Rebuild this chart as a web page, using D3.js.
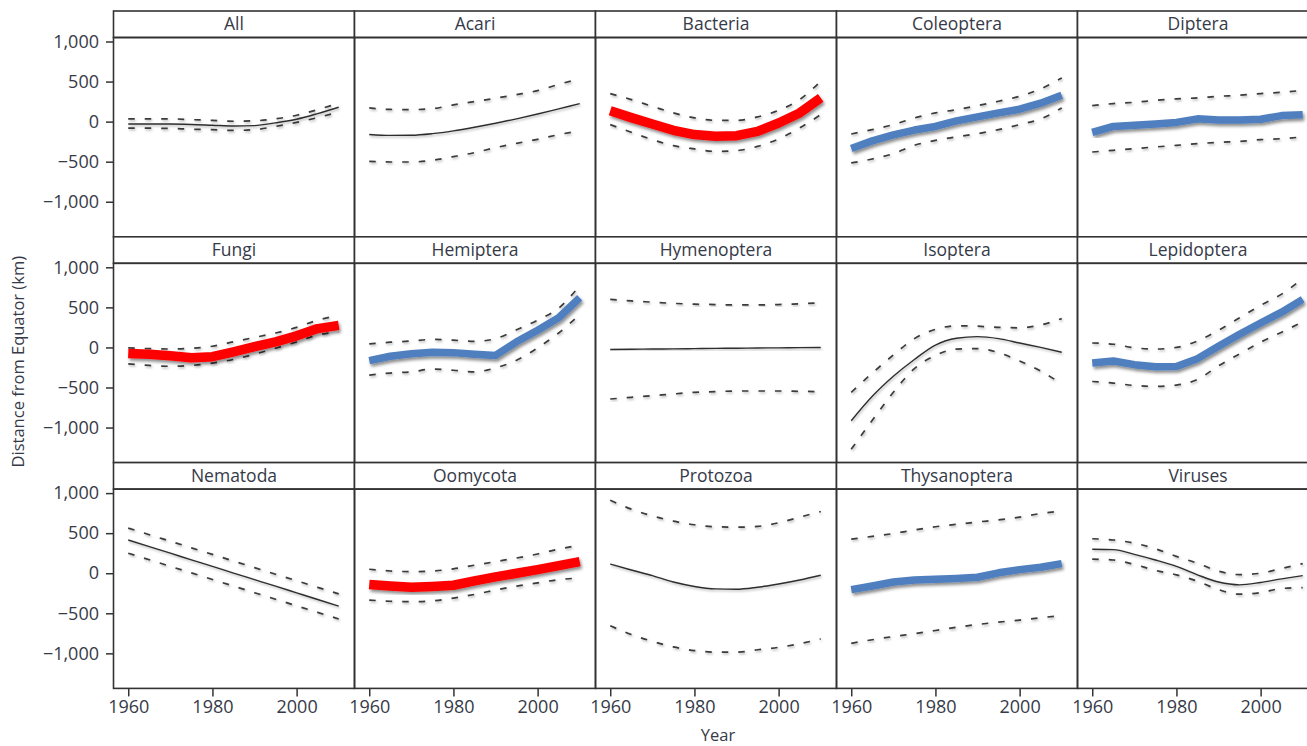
<!DOCTYPE html>
<html>
<head>
<meta charset="utf-8">
<script src="https://cdn.jsdelivr.net/npm/d3@7"></script>
<style>
  html, body { margin: 0; padding: 0; background: #fff; overflow: hidden; }
  svg { display: block; }
  text { font-family: "Open Sans", "Noto Sans", sans-serif; fill: #363a48; }
</style>
</head>
<body>
<svg id="chart" width="1307" height="746"></svg>
<script>
// Fitted poleward shift of observed ranges (km from the Equator), 1960–2010, every 5 years
const years = [1960, 1965, 1970, 1975, 1980, 1985, 1990, 1995, 2000, 2005, 2010];
const panelNames = ["All", "Acari", "Bacteria", "Coleoptera", "Diptera",
                    "Fungi", "Hemiptera", "Hymenoptera", "Isoptera", "Lepidoptera",
                    "Nematoda", "Oomycota", "Protozoa", "Thysanoptera", "Viruses"];
// significant trend group per panel: "path" (pathogens), "pest" (insects), or "" (none)
const trendGroup = ["", "", "path", "pest", "pest",
                    "path", "pest", "", "", "pest",
                    "", "path", "", "pest", ""];

const yTicks = [-1000, -500, 0, 500, 1000];
const xTicks = [1960, 1980, 2000];

const allFit = [-30, -30, -30, -35, -45, -55, -50, -15, 30, 100, 180];
const allLo  = [-80, -82, -85, -95, -100, -110, -100, -60, -10, 50, 120];
const allHi  = [35, 35, 35, 25, 15, 5, 10, 35, 80, 150, 230];

const acariFit = [-160, -172, -170, -150, -115, -70, -20, 35, 95, 160, 225];
const acariLo  = [-495, -504, -504, -483, -437, -387, -325, -271, -221, -162, -115];
const acariHi  = [171, 152, 150, 162, 209, 250, 292, 337, 387, 465, 535];

const bacteriaFit = [135, 50, -29, -108, -162, -183, -175, -121, -17, 108, 296];
const bacteriaLo  = [-37, -133, -225, -300, -341, -371, -362, -309, -216, -79, 87];
const bacteriaHi  = [350, 275, 191, 109, 46, 16, 16, 59, 141, 275, 504];

const coleopteraFit = [-335, -240, -165, -105, -60, 10, 60, 110, 155, 230, 330];
const coleopteraLo  = [-516, -466, -400, -296, -234, -191, -150, -100, -37, 34, 171];
const coleopteraHi  = [-154, -100, -37, 46, 109, 150, 200, 254, 316, 409, 546];

const dipteraFit = [-135, -60, -45, -30, -10, 35, 20, 20, 30, 75, 85];
const dipteraLo  = [-379, -358, -337, -316, -296, -275, -258, -246, -225, -212, -191];
const dipteraHi  = [200, 225, 241, 266, 284, 296, 316, 329, 350, 366, 391];

const fungiFit = [-75, -85, -105, -128, -115, -55, 10, 70, 145, 235, 275];
const fungiLo  = [-205, -225, -235, -225, -195, -150, -85, -10, 70, 155, 190];
const fungiHi  = [-5, -15, -20, -10, 15, 70, 125, 180, 250, 340, 400];

const hemipteraFit = [-165, -110, -80, -60, -65, -85, -100, 70, 215, 370, 620];
const hemipteraLo  = [-345, -320, -305, -270, -285, -305, -255, -160, -5, 180, 410];
const hemipteraHi  = [45, 65, 80, 100, 90, 75, 110, 220, 340, 490, 770];

const hymenopteraFit = [-25, -23, -20, -18, -15, -12, -10, -7, -5, -2, 0];
const hymenopteraLo  = [-644, -623, -602, -581, -560, -552, -544, -544, -544, -548, -552];
const hymenopteraHi  = [600, 580, 565, 550, 540, 535, 530, 530, 535, 545, 555];

const isopteraFit = [-915, -610, -360, -150, 30, 115, 135, 110, 55, 0, -60];
const isopteraLo  = [-1270, -910, -560, -265, -100, -20, -15, -65, -170, -295, -455];
const isopteraHi  = [-560, -320, -95, 110, 225, 270, 265, 250, 245, 280, 360];

const lepidopteraFit = [-195, -170, -215, -240, -237, -140, 15, 165, 305, 440, 600];
const lepidopteraLo  = [-425, -445, -475, -486, -470, -400, -230, -80, 65, 190, 320];
const lepidopteraHi  = [55, 40, -5, -20, 0, 80, 215, 370, 525, 665, 860];

const nematodaFit = [415, 332, 250, 167, 85, 2, -80, -162, -245, -328, -410];
const nematodaLo  = [250, 168, 86, 4, -78, -160, -243, -325, -407, -489, -571];
const nematodaHi  = [563, 481, 399, 317, 235, 152, 70, -12, -94, -176, -258];

const oomycotaFit = [-140, -160, -175, -165, -150, -95, -45, 0, 45, 95, 145];
const oomycotaLo  = [-335, -350, -355, -345, -310, -265, -210, -160, -120, -80, -60];
const oomycotaHi  = [50, 28, 20, 28, 55, 100, 145, 190, 240, 300, 350];

const protozoaFit = [115, 40, -30, -110, -165, -195, -200, -175, -135, -85, -25];
const protozoaLo  = [-655, -765, -850, -920, -965, -985, -985, -955, -925, -880, -820];
const protozoaHi  = [910, 800, 715, 650, 605, 580, 575, 585, 630, 700, 770];

const thysanopteraFit = [-205, -160, -110, -85, -75, -65, -50, 5, 45, 75, 120];
const thysanopteraLo  = [-875, -830, -790, -755, -715, -675, -640, -610, -585, -555, -530];
const thysanopteraHi  = [425, 460, 495, 540, 580, 610, 640, 665, 700, 745, 775];

const virusesFit = [300, 295, 235, 165, 85, -20, -110, -145, -115, -70, -30];
const virusesLo  = [175, 165, 110, 35, -20, -100, -205, -262, -242, -190, -180];
const virusesHi  = [430, 415, 375, 305, 210, 125, 25, -18, 0, 60, 120];

const fits = [allFit, acariFit, bacteriaFit, coleopteraFit, dipteraFit,
              fungiFit, hemipteraFit, hymenopteraFit, isopteraFit, lepidopteraFit,
              nematodaFit, oomycotaFit, protozoaFit, thysanopteraFit, virusesFit];
const lows = [allLo, acariLo, bacteriaLo, coleopteraLo, dipteraLo,
              fungiLo, hemipteraLo, hymenopteraLo, isopteraLo, lepidopteraLo,
              nematodaLo, oomycotaLo, protozoaLo, thysanopteraLo, virusesLo];
const highs = [allHi, acariHi, bacteriaHi, coleopteraHi, dipteraHi,
               fungiHi, hemipteraHi, hymenopteraHi, isopteraHi, lepidopteraHi,
               nematodaHi, oomycotaHi, protozoaHi, thysanopteraHi, virusesHi];

// ---- layout ----
const nCols = 5;
const gridLeft = 113.5, gridTop = 11;
const colW = 241, stripH = 26.5, plotH = 199.3;
const rowH = stripH + plotH;

const groupStyle = {
  path: { color: "#ff0000", width: 9.5 },
  pest: { color: "#4f7fbf", width: 7.5 }
};

const svg = d3.select("#chart");

const defs = svg.append("defs");
const shadow = defs.append("filter").attr("id", "shadow")
  .attr("x", "-10%").attr("y", "-30%").attr("width", "120%").attr("height", "160%");
shadow.append("feDropShadow").attr("dx", 1.5).attr("dy", 2.5)
  .attr("stdDeviation", 1.6).attr("flood-color", "#000").attr("flood-opacity", 0.45);
const softShadow = defs.append("filter").attr("id", "softShadow")
  .attr("x", "-10%").attr("y", "-30%").attr("width", "120%").attr("height", "160%");
softShadow.append("feDropShadow").attr("dx", 1).attr("dy", 1.5)
  .attr("stdDeviation", 0.8).attr("flood-color", "#000").attr("flood-opacity", 0.3);

const x = d3.scaleLinear().domain([1956.5, 2013.75]).range([0, colW]);
const y = d3.scaleLinear().domain([-1437.5, 1050]).range([plotH, 0]);

const smoothLine = d3.line()
  .x(d => x(d[0])).y(d => y(d[1])).curve(d3.curveMonotoneX);
const trendLine = d3.line()
  .x(d => x(d[0])).y(d => y(d[1])).curve(d3.curveLinear);

const fmt = d3.format(",");
const minusFmt = v => fmt(v).replace("-", "\u2212");

panelNames.forEach((name, i) => {
  const col = i % nCols, row = Math.floor(i / nCols);
  const left = gridLeft + col * colW;
  const top = gridTop + row * rowH;

  const g = svg.append("g").attr("transform", `translate(${left},${top})`);

  // strip with panel title
  g.append("rect")
    .attr("x", 0).attr("y", 0).attr("width", colW).attr("height", stripH)
    .attr("fill", "#fff").attr("stroke", "#333").attr("stroke-width", 1.6);
  g.append("text")
    .attr("x", colW / 2).attr("y", stripH / 2 + 6)
    .attr("text-anchor", "middle").attr("font-size", 17.5)
    .text(name);

  const p = g.append("g").attr("transform", `translate(0,${stripH})`);

  const clipId = "clip" + i;
  defs.append("clipPath").attr("id", clipId)
    .append("rect").attr("x", 0).attr("y", 0).attr("width", colW).attr("height", plotH);

  const marks = p.append("g").attr("clip-path", `url(#${clipId})`);
  const lo = years.map((yr, k) => [yr, lows[i][k]]);
  const hi = years.map((yr, k) => [yr, highs[i][k]]);
  const fit = years.map((yr, k) => [yr, fits[i][k]]);

  [lo, hi].forEach(band => {
    marks.append("path")
      .attr("d", smoothLine(band))
      .attr("fill", "none").attr("stroke", "#3a3a3a")
      .attr("stroke-width", 1.7).attr("stroke-dasharray", "6.5,10")
      .attr("filter", "url(#softShadow)");
  });

  const grp = trendGroup[i];
  if (grp) {
    const st = groupStyle[grp];
    marks.append("path")
      .attr("d", trendLine(fit))
      .attr("fill", "none").attr("stroke", st.color)
      .attr("stroke-width", st.width)
      .attr("stroke-linejoin", "round").attr("stroke-linecap", "butt")
      .attr("filter", "url(#shadow)");
  } else {
    marks.append("path")
      .attr("d", smoothLine(fit))
      .attr("fill", "none").attr("stroke", "#2e2e2e")
      .attr("stroke-width", 1.4)
      .attr("filter", "url(#softShadow)");
  }

  p.append("rect")
    .attr("x", 0).attr("y", 0).attr("width", colW).attr("height", plotH)
    .attr("fill", "none").attr("stroke", "#333").attr("stroke-width", 1.6);

  if (col === 0) {
    const ax = p.append("g")
      .call(d3.axisLeft(y).tickValues(yTicks).tickFormat(minusFmt)
        .tickSize(7.5).tickPadding(7));
    ax.select(".domain").remove();
    ax.selectAll(".tick line").attr("stroke", "#333").attr("stroke-width", 1.5);
    ax.selectAll(".tick text").attr("font-size", 18)
      .attr("font-family", "'Open Sans', sans-serif").attr("fill", "#363a48");
  }
  if (row === 2) {
    const ax = p.append("g").attr("transform", `translate(0,${plotH})`)
      .call(d3.axisBottom(x).tickValues(xTicks).tickFormat(d3.format("d"))
        .tickSize(8).tickPadding(4));
    ax.select(".domain").remove();
    ax.selectAll(".tick line").attr("stroke", "#333").attr("stroke-width", 1.5);
    ax.selectAll(".tick text").attr("font-size", 18)
      .attr("font-family", "'Open Sans', sans-serif").attr("fill", "#363a48");
  }
});

// axis titles
svg.append("text")
  .attr("transform", `translate(24,${gridTop + 1.5 * rowH + 12}) rotate(-90)`)
  .attr("text-anchor", "middle").attr("font-size", 16.5)
  .text("Distance from Equator (km)");

svg.append("text")
  .attr("x", 718).attr("y", 741)
  .attr("text-anchor", "middle").attr("font-size", 16.5)
  .text("Year");
</script>
</body>
</html>
